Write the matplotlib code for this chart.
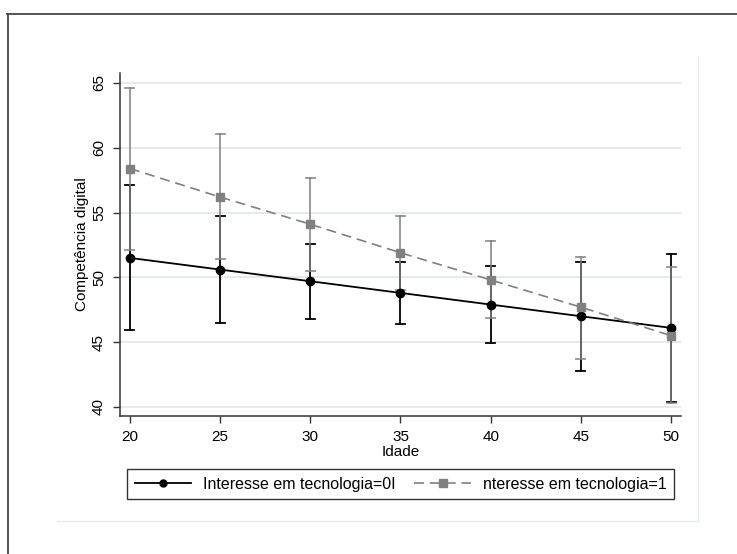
import matplotlib
matplotlib.use("Agg")
from matplotlib import pyplot as plt
from matplotlib.lines import Line2D

plt.rcParams['font.family'] = ['Liberation Sans', 'DejaVu Sans']

# idade e margens estimadas
idade = [20, 25, 30, 35, 40, 45, 50]

media_0 = [51.5, 50.6, 49.7, 48.8, 47.9, 47.0, 46.1]
sup_0 = [57.1, 54.7, 52.6, 51.2, 50.9, 51.2, 51.8]
inf_0 = [45.9, 46.5, 46.8, 46.4, 44.9, 42.8, 40.4]

media_1 = [58.4, 56.2, 54.1, 51.9, 49.8, 47.7, 45.5]
sup_1 = [64.6, 61.1, 57.7, 54.7, 52.8, 51.6, 50.8]
inf_1 = [52.1, 51.4, 50.5, 49.0, 46.9, 43.7, 40.3]

y_ticks = [40, 45, 50, 55, 60, 65]
labels = ['Interesse em tecnologia=0I', 'nteresse em tecnologia=1']

fig = plt.figure(figsize=(7.37, 5.54), dpi=100)
ax = fig.add_axes([0.1628, 0.2491, 0.924 - 0.1628, 0.8682 - 0.2491])

# intervalos de confianca
cap = 0.25
for x, lo, hi in zip(idade, inf_0, sup_0):
    ax.plot([x, x], [lo, hi], color='black', lw=1.3, zorder=2)
    ax.plot([x - cap, x + cap], [lo, lo], color='black', lw=1.3, zorder=2)
    ax.plot([x - cap, x + cap], [hi, hi], color='black', lw=1.3, zorder=2)
for x, lo, hi in zip(idade, inf_1, sup_1):
    ax.plot([x, x], [lo, hi], color='#7f7f7f', alpha=0.85, lw=1.3, zorder=3)
    ax.plot([x - cap, x + cap], [lo, lo], color='#7f7f7f', alpha=0.85, lw=1.3, zorder=3)
    ax.plot([x - cap, x + cap], [hi, hi], color='#7f7f7f', alpha=0.85, lw=1.3, zorder=3)

ax.plot(idade, media_0, color='black', lw=1.3, marker='o', markersize=6,
        zorder=4, label=labels[0])
ax.plot(idade, media_1, color='#808080', lw=1.2, dashes=(6, 3.5), marker='s',
        markersize=5.5, zorder=5, label=labels[1])

ax.set_xlim(19.45, 50.55)
ax.set_ylim(39.3, 65.77)
ax.set_xticks(idade)
ax.set_yticks(y_ticks)
ax.set_yticklabels([str(v) for v in y_ticks], rotation=90, va='center')
ax.grid(axis='y', color='#e1ebeb', lw=1.3)
ax.set_axisbelow(True)
for s in ['top', 'right']:
    ax.spines[s].set_visible(False)
for s in ['left', 'bottom']:
    ax.spines[s].set_color('#333333')
    ax.spines[s].set_linewidth(1.1)
ax.tick_params(direction='out', length=5, width=1.0, color='#333333',
               labelsize=11, pad=5)
ax.set_xlabel('Idade', fontsize=11, labelpad=0.5)
ax.set_ylabel('Competência digital', fontsize=11, labelpad=2)

# legenda em baixo
leg = fig.legend(loc='center', bbox_to_anchor=(400.5 / 737, 1 - 484 / 554), ncol=2,
                 fontsize=11.5, frameon=True, fancybox=False, handlelength=3.55,
                 columnspacing=1.15, borderpad=0.45, handletextpad=0.75)
leg.get_frame().set_edgecolor('black')
leg.get_frame().set_linewidth(1.0)
leg.legend_handles[0].set_markersize(5)

# moldura externa e contorno da regiao do grafico
fig.add_artist(Line2D([7 / 737, 1], [1 - 14 / 554] * 2, color='#444444', lw=1.3))
fig.add_artist(Line2D([8 / 737] * 2, [0, 1 - 14 / 554], color='#444444', lw=1.3))
fig.add_artist(Line2D([698 / 737] * 2, [1 - 521 / 554, 1 - 56 / 554], color='#e3ecec', lw=1.0))
fig.add_artist(Line2D([57 / 737, 698 / 737], [1 - 521 / 554] * 2, color='#e3ecec', lw=1.0))

fig.savefig('out.png', dpi=100)
